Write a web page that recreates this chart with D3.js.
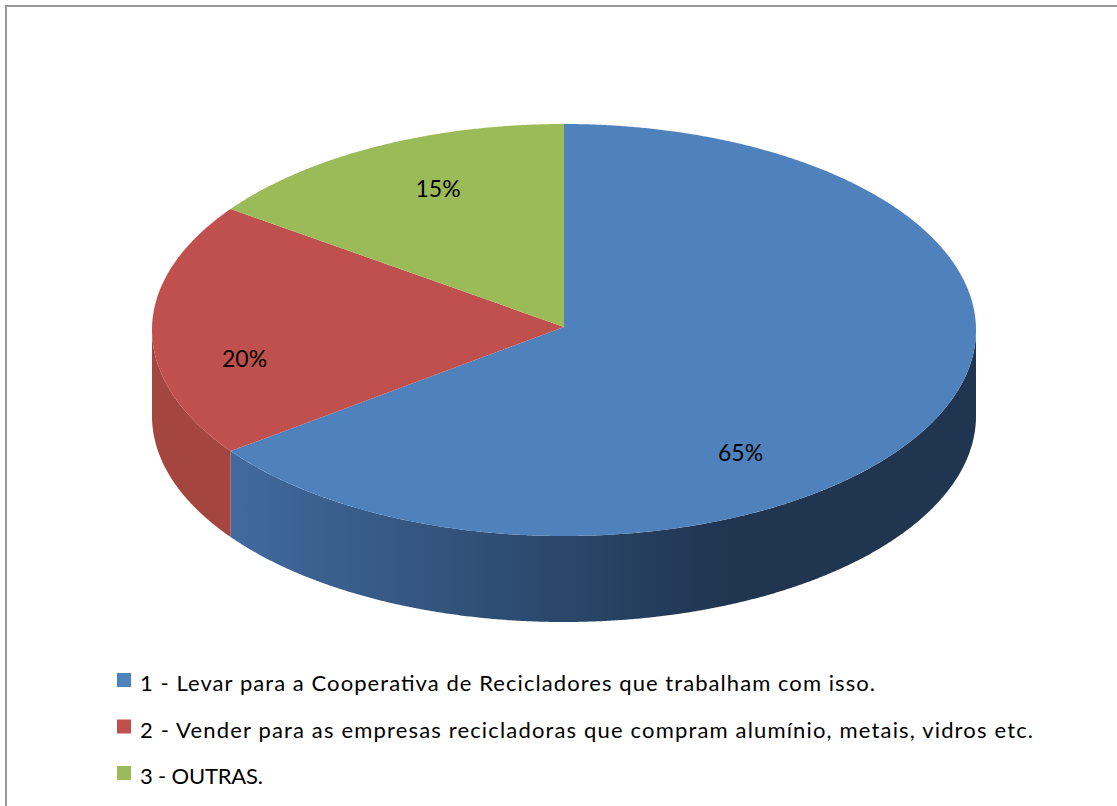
<!DOCTYPE html>
<html lang="en">
<head>
<meta charset="utf-8">
<title>Pie</title>
<script src="https://cdn.jsdelivr.net/npm/d3@7"></script>
<style>
html,body{margin:0;padding:0;background:#fff}
svg{display:block}
text{font-family:Lato,"Open Sans",sans-serif;fill:#000}
</style>
</head>
<body>
<script>
const w = 1117
const h = 806

const categories = [
    "1 - Levar para a Cooperativa de Recicladores que trabalham com isso.",
    "2 - Vender para as empresas recicladoras que compram alumínio, metais, vidros etc.",
    "3 - OUTRAS."
]
const values = [65, 20, 15]
const labels = ["65%", "20%", "15%"]
const colors = ["#4F81BD", "#C0504D", "#9BBB59"]

// layout, kept apart from the data
const legendWidths = [735, 893, 123]
const labelNudge = [[-51, 65], [-64, 29], [-10, -27]]
const cx = 564, cy = 330, apexY = 327, ry = 206, squash = 2, depth = 86

let svg = d3.select("body").append("svg").attr("width", w).attr("height", h)

// frame, runs off the right and bottom of the picture
svg.append("rect")
    .attr("x", 6).attr("y", 6)
    .attr("width", w + 20).attr("height", h + 20)
    .attr("fill", "white").attr("stroke", "#999").attr("stroke-width", 2)

let defs = svg.append("defs")
let grad = defs.append("linearGradient").attr("id", "side")
    .attr("gradientUnits", "userSpaceOnUse")
    .attr("x1", 230).attr("x2", 730).attr("y1", 0).attr("y2", 0)
grad.append("stop").attr("offset", 0).attr("stop-color", "#416A9E")
grad.append("stop").attr("offset", 1).attr("stop-color", "#1F3550")

let pie = d3.pie().sort(null)
let arcs = pie(values)

let ex = a => cx + ry * squash * Math.sin(a)
let ey = a => cy - ry * Math.cos(a)
let steps = (a0, a1) => d3.range(a0, a1, 0.005).concat([a1])

// rim: only the part of each slice facing the viewer (angles 90deg to 270deg)
let rim = d3.area().x(ex).y0(ey).y1(a => ey(a) + depth)
let rimFills = ["url(#side)", "#A5453F", "#7F9A48"]

arcs.forEach((d, i) => {
    let a0 = Math.max(d.startAngle, Math.PI / 2)
    let a1 = Math.min(d.endAngle, Math.PI * 3 / 2)
    if (a1 <= a0) return
    svg.append("path")
        .attr("d", rim(steps(a0, a1)))
        .attr("fill", rimFills[i])
})

// top face, the apex sits a little above the middle of the ellipse
let sector = d3.line()
svg.selectAll(".slice")
    .data(arcs)
    .enter()
    .append("path")
    .attr("class", "slice")
    .attr("d", d => sector([[cx, apexY]].concat(steps(d.startAngle, d.endAngle).map(a => [ex(a), ey(a)]))) + "Z")
    .attr("fill", (d, i) => colors[i])

// data labels
let labelArc = d3.arc().innerRadius(ry * 0.62).outerRadius(ry * 0.62)
svg.selectAll(".pct")
    .data(arcs)
    .enter()
    .append("text")
    .attr("class", "pct")
    .attr("x", (d, i) => cx + squash * labelArc.centroid(d)[0] + labelNudge[i][0])
    .attr("y", (d, i) => cy + labelArc.centroid(d)[1] + 8 + labelNudge[i][1])
    .attr("text-anchor", "middle")
    .attr("font-size", "23px")
    .text((d, i) => labels[i])

// legend
let rowY = d3.scalePoint().domain(d3.range(categories.length)).range([680, 773])
let legend = svg.selectAll(".legend")
    .data(categories)
    .enter()
    .append("g")
    .attr("class", "legend")
legend.append("rect")
    .attr("x", 117)
    .attr("y", (d, i) => rowY(i) - 7)
    .attr("width", 14).attr("height", 14)
    .attr("fill", (d, i) => colors[i])
legend.append("text")
    .attr("x", 140)
    .attr("y", (d, i) => rowY(i) + 11)
    .attr("font-size", "22px")
    .attr("textLength", (d, i) => legendWidths[i])
    .attr("lengthAdjust", "spacing")
    .text(d => d)
</script>
</body>
</html>
